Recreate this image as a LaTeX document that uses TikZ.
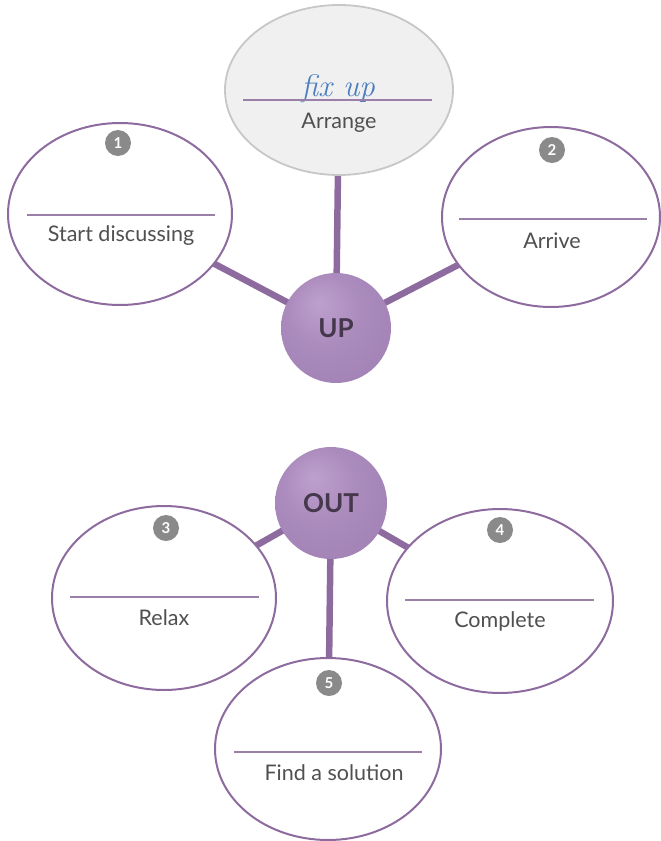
\documentclass[tikz,border=0pt]{standalone}
\usepackage{fontspec}
\setmainfont{Lato}
\newfontfamily\handfont{Latin Modern Roman}
\usetikzlibrary{shapes.geometric,calc,backgrounds}
\definecolor{purp}{HTML}{8D6B9F}
\definecolor{rulec}{HTML}{9A7FA8}
\definecolor{txt}{HTML}{505050}
\definecolor{fixblue}{HTML}{4A7DBE}
\definecolor{badgec}{HTML}{8A8A8A}
\definecolor{hubhi}{HTML}{BEA0CE}
\definecolor{hubmid}{HTML}{A383B6}
\definecolor{hublo}{HTML}{7B5A90}
\definecolor{hubtxt}{HTML}{46384C}
\pgfdeclareradialshading{hubshade}{\pgfpoint{-8bp}{12bp}}{color(0bp)=(hubhi); color(16bp)=(hubmid!70!hubhi); color(32bp)=(hubmid); color(44bp)=(hublo); color(50bp)=(hublo)}
\begin{document}
\begin{tikzpicture}[x=1pt,y=-1pt,
  bub/.style={ellipse, draw=purp, line width=2pt, fill=white, inner sep=0pt},
  topbub/.style={ellipse, draw=black!22, line width=1.8pt, fill=black!6, inner sep=0pt},
  hub/.style={circle, inner sep=0pt, minimum size=#1, shading=hubshade, text=hubtxt,
     font=\bfseries\fontsize{26}{26}\selectfont},
  conn/.style={draw=purp, line width=6.5pt},
  rulel/.style={draw=rulec, line width=1.6pt},
  lab/.style={text=txt, font=\fontsize{21.5}{21.5}\selectfont},
  badge/.style={circle, fill=badgec, text=white, minimum size=26pt, inner sep=0pt,
     font=\bfseries\fontsize{15}{15}\selectfont}
]
\useasboundingbox (0,0) rectangle (661,841);

% nodes
\node[topbub, minimum width=228pt, minimum height=170pt] (top) at (339,90) {};
\node[bub, minimum width=224pt, minimum height=182pt] (e1) at (120,214) {};
\node[bub, minimum width=218pt, minimum height=180pt] (e2) at (551,217) {};
\node[hub=110pt] (up) at (336,328) {UP};
\node[hub=112pt] (out) at (331,503) {OUT};
\node[bub, minimum width=224pt, minimum height=184pt] (e3) at (164,598) {};
\node[bub, minimum width=226pt, minimum height=184pt] (e4) at (500,601) {};
\node[bub, minimum width=226pt, minimum height=182pt] (e5) at (328,749) {};

% connectors
\begin{scope}[on background layer]
\draw[conn] (top.center) -- (up.center);
\draw[conn] (e1.center) -- (up.center);
\draw[conn] (e2.center) -- (up.center);
\draw[conn] (out.center) -- (e3.center);
\draw[conn] (out.center) -- (e4.center);
\draw[conn] (out.center) -- (e5.center);
\end{scope}

% top ellipse content
\node[text=fixblue, font=\handfont\itshape\fontsize{31}{31}\selectfont, anchor=base] (fx) at (338,96) {fix up};
\draw[rulel] ($(top.center)+(-96,10)$) -- ($(top.center)+(93,10)$);
\node[lab] (t0) at ($(top.center)+(0,33)$) {Arrange};

% numbered ellipses
\node[badge] (b1) at ($(e1.center)+(-2,-71)$) {1};
\draw[rulel] ($(e1.center)+(-93,1)$) -- ($(e1.center)+(95,1)$);
\node[lab] (t1) at ($(e1.center)+(1,22)$) {Start discussing};

\node[badge] (b2) at ($(e2.center)+(1,-67)$) {2};
\draw[rulel] ($(e2.center)+(-92,2)$) -- ($(e2.center)+(96,2)$);
\node[lab] (t2) at ($(e2.center)+(1,24)$) {Arrive};

\node[badge] (b3) at ($(e3.center)+(2,-70)$) {3};
\draw[rulel] ($(e3.center)+(-94,-1)$) -- ($(e3.center)+(95,-1)$);
\node[lab] (t3) at ($(e3.center)+(0,20)$) {Relax};

\node[badge] (b4) at ($(e4.center)+(0,-71)$) {4};
\draw[rulel] ($(e4.center)+(-95,-1)$) -- ($(e4.center)+(94,-1)$);
\node[lab] (t4) at ($(e4.center)+(0,20)$) {Complete};

\node[badge] (b5) at ($(e5.center)+(1,-66)$) {5};
\draw[rulel] ($(e5.center)+(-94,3)$) -- ($(e5.center)+(94,3)$);
\node[lab] (t5) at ($(e5.center)+(6,24)$) {Find a solution};
\end{tikzpicture}
\end{document}
